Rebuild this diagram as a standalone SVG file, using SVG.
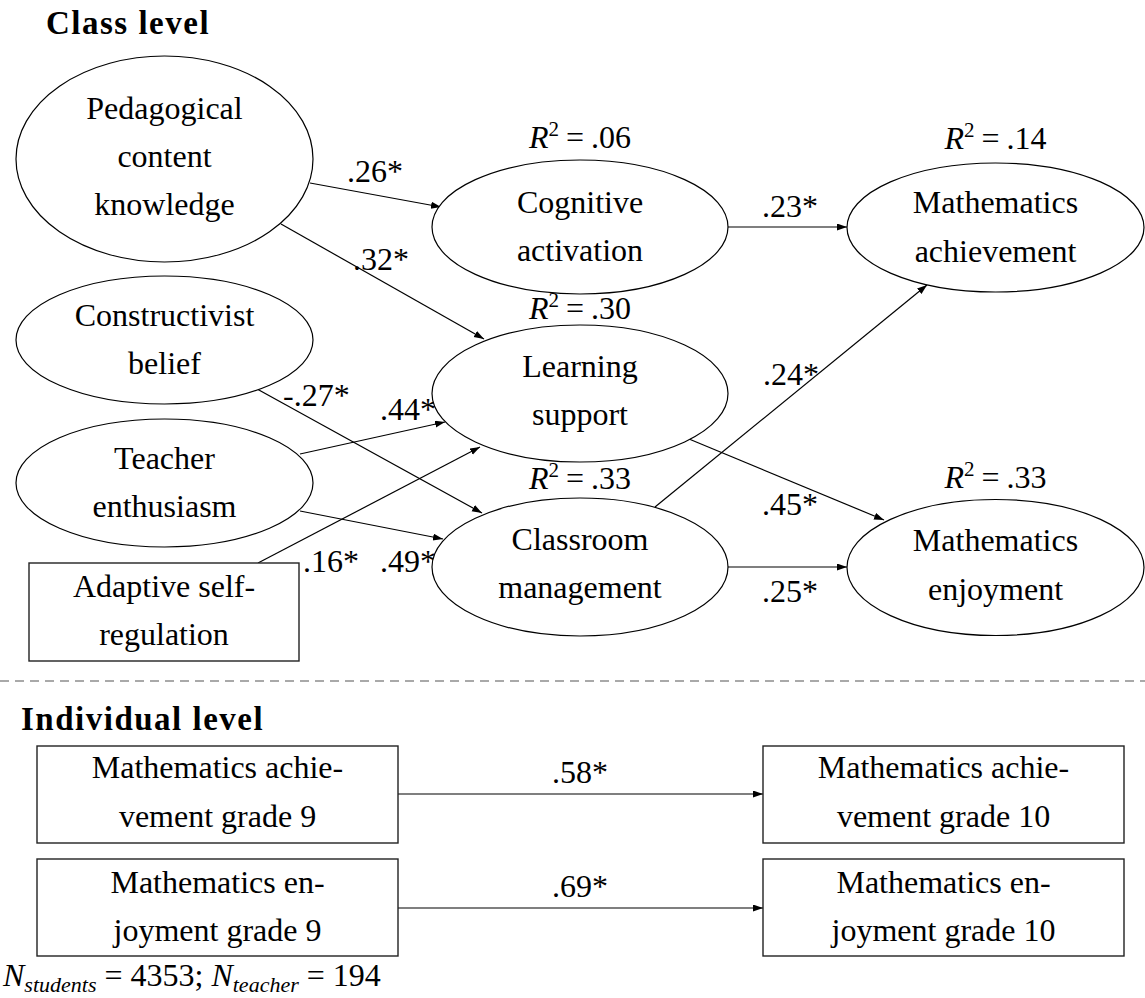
<svg xmlns="http://www.w3.org/2000/svg" width="1145" height="998" viewBox="0 0 1145 998">
<style>
text{font-family:"Liberation Serif","Times New Roman",serif;font-size:32px;fill:#000}
.c{text-anchor:middle}
.h{font-weight:bold;font-size:33px;letter-spacing:1.5px}
.n{fill:#fff;stroke:#000;stroke-width:1.2}
.b{fill:#fff;stroke:#222;stroke-width:1.4}
.e{stroke:#000;stroke-width:1.2;fill:none;marker-end:url(#ah)}
.i{font-style:italic}
</style>
<defs>
<marker id="ah" markerUnits="userSpaceOnUse" markerWidth="11" markerHeight="8" refX="10" refY="3.5" orient="auto">
<path d="M0,0 L10,3.5 L0,7 z" fill="#000"/>
</marker>
</defs>
<rect width="1145" height="998" fill="#fff"/>
<text class="h" x="46" y="34">Class level</text>
<text class="h" x="21" y="730">Individual level</text>
<line x1="0" y1="681" x2="1145" y2="681" stroke="#555" stroke-width="1.2" stroke-dasharray="9,6"/>

<g id="connectors">
<line class="e" x1="310" y1="183" x2="441" y2="207"/>
<line class="e" x1="281" y1="224" x2="484" y2="339"/>
<line class="e" x1="728" y1="227" x2="847" y2="227"/>
<line class="e" x1="258" y1="389.5" x2="482" y2="513"/>
<line class="e" x1="300" y1="454" x2="445" y2="422"/>
<line class="e" x1="300" y1="511" x2="443" y2="539"/>
<line class="e" x1="258" y1="563" x2="480" y2="447"/>
<line class="e" x1="689" y1="439" x2="884" y2="520"/>
<line class="e" x1="655" y1="507" x2="927" y2="285"/>
<line class="e" x1="728" y1="567" x2="847" y2="567"/>
<line class="e" x1="398" y1="794" x2="763" y2="794"/>
<line class="e" x1="398" y1="908" x2="763" y2="908"/>
<text x="347" y="182">.26*</text>
<text x="353" y="270">.32*</text>
<text x="762" y="217">.23*</text>
<text x="763" y="385">.24*</text>
<text x="283" y="406">-.27*</text>
<text x="380" y="420">.44*</text>
<text x="303" y="572">.16*</text>
<text x="380" y="572">.49*</text>
<text x="762" y="515">.45*</text>
<text x="762" y="602">.25*</text>
<text class="c" x="580" y="783">.58*</text>
<text class="c" x="580" y="897">.69*</text>
</g>

<g id="pck">
<ellipse class="n" cx="164.5" cy="159" rx="148.5" ry="103"/>
<text class="c" x="164.5" y="119">Pedagogical</text>
<text class="c" x="164.5" y="167">content</text>
<text class="c" x="164.5" y="215">knowledge</text>
</g>
<g id="constructivist">
<ellipse class="n" cx="164.5" cy="340" rx="148.5" ry="64"/>
<text class="c" x="164.5" y="326">Constructivist</text>
<text class="c" x="164.5" y="374">belief</text>
</g>
<g id="enthusiasm">
<ellipse class="n" cx="164.5" cy="483" rx="148.5" ry="64"/>
<text class="c" x="164.5" y="469">Teacher</text>
<text class="c" x="164.5" y="517">enthusiasm</text>
</g>
<g id="adaptive">
<rect class="b" x="29" y="563" width="270" height="98"/>
<text class="c" x="164" y="597">Adaptive self-</text>
<text class="c" x="164" y="645">regulation</text>
</g>
<g id="cognitive">
<ellipse class="n" cx="580" cy="227" rx="148" ry="67"/>
<text class="c" x="580" y="213">Cognitive</text>
<text class="c" x="580" y="261">activation</text>
<text class="c" x="580" y="148"><tspan class="i">R</tspan><tspan dy="-12" font-size="21">2</tspan><tspan dy="12" dx="7">=</tspan><tspan dx="7">.06</tspan></text>
</g>
<g id="learning">
<ellipse class="n" cx="580" cy="393.5" rx="148" ry="68.5"/>
<text class="c" x="580" y="377">Learning</text>
<text class="c" x="580" y="425">support</text>
<text class="c" x="580" y="319"><tspan class="i">R</tspan><tspan dy="-12" font-size="21">2</tspan><tspan dy="12" dx="7">=</tspan><tspan dx="7">.30</tspan></text>
</g>
<g id="classroom">
<ellipse class="n" cx="580" cy="567" rx="148" ry="69"/>
<text class="c" x="580" y="550">Classroom</text>
<text class="c" x="580" y="598">management</text>
<text class="c" x="580" y="489"><tspan class="i">R</tspan><tspan dy="-12" font-size="21">2</tspan><tspan dy="12" dx="7">=</tspan><tspan dx="7">.33</tspan></text>
</g>
<g id="mathach">
<ellipse class="n" cx="995.5" cy="227.5" rx="148.5" ry="64.5"/>
<text class="c" x="995.5" y="213">Mathematics</text>
<text class="c" x="995.5" y="262">achievement</text>
<text class="c" x="995.5" y="149"><tspan class="i">R</tspan><tspan dy="-12" font-size="21">2</tspan><tspan dy="12" dx="7">=</tspan><tspan dx="7">.14</tspan></text>
</g>
<g id="mathenj">
<ellipse class="n" cx="995.5" cy="567.5" rx="148.5" ry="68"/>
<text class="c" x="995.5" y="551">Mathematics</text>
<text class="c" x="995.5" y="600">enjoyment</text>
<text class="c" x="995.5" y="488"><tspan class="i">R</tspan><tspan dy="-12" font-size="21">2</tspan><tspan dy="12" dx="7">=</tspan><tspan dx="7">.33</tspan></text>
</g>
<g id="ach9">
<rect class="b" x="37" y="746" width="361" height="97"/>
<text class="c" x="217.5" y="778">Mathematics achie-</text>
<text class="c" x="217.5" y="827">vement grade 9</text>
</g>
<g id="ach10">
<rect class="b" x="763" y="746" width="361" height="97"/>
<text class="c" x="943.5" y="778">Mathematics achie-</text>
<text class="c" x="943.5" y="827">vement grade 10</text>
</g>
<g id="enj9">
<rect class="b" x="37" y="859" width="361" height="97"/>
<text class="c" x="217.5" y="893">Mathematics en-</text>
<text class="c" x="217.5" y="941">joyment grade 9</text>
</g>
<g id="enj10">
<rect class="b" x="763" y="859" width="361" height="97"/>
<text class="c" x="943.5" y="893">Mathematics en-</text>
<text class="c" x="943.5" y="941">joyment grade 10</text>
</g>
<text x="3" y="986"><tspan class="i">N</tspan><tspan class="i" font-size="22" dy="6">students</tspan><tspan dy="-6"> = 4353; </tspan><tspan class="i">N</tspan><tspan class="i" font-size="22" dy="6">teacher</tspan><tspan dy="-6"> = 194</tspan></text>
</svg>
